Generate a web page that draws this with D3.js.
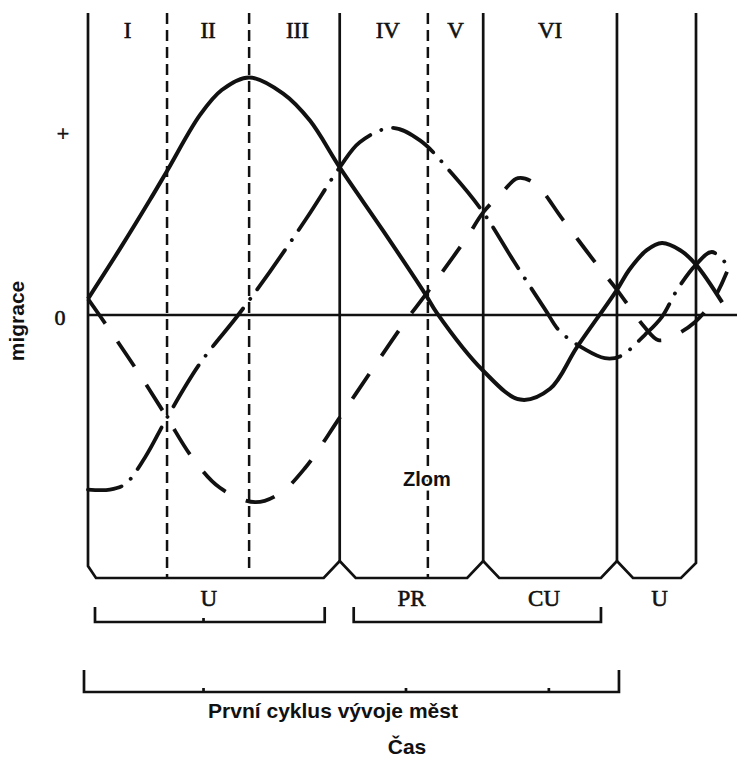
<!DOCTYPE html>
<html><head><meta charset="utf-8">
<script src="https://cdn.jsdelivr.net/npm/d3@7"></script>
<style>body{margin:0;background:#fff}svg{display:block}</style>
</head><body>
<svg id="c" width="737" height="758"></svg>
<script>
// ---- data (time 0..100 across the first cycle + next U, migration: "+" = 1) ----
const stageLabels = ["I", "II", "III", "IV", "V", "VI"];
const stageBounds = [0, 13.0, 26.5, 41.4, 55.9, 65.0, 87.0];
const dashedBounds = [13.0, 26.5, 55.9];
const solidBounds = [0, 41.4, 65.0, 87.0, 100];
const phaseLabels = ["U", "PR", "CU", "U"];
const phaseBounds = [0, 41.4, 65.0, 87.0, 100];
const yTickLabels = ["+", "0"];
const yTickValues = [1, 0];
const cycleTicks = [19, 52.3, 75.8];

const solidSeries = [
  [0, 0.09], [5.3, 0.37], [10.2, 0.64], [13.0, 0.80], [18.4, 1.11], [22.0, 1.25], [26.5, 1.32],
  [32.1, 1.23], [36.5, 1.08], [41.4, 0.82], [48.5, 0.47], [55.4, 0.12], [57.4, 0.01],
  [65.0, -0.31], [71.1, -0.47], [76.0, -0.41], [80.4, -0.18], [87.0, 0.14], [89.0, 0.25],
  [91.9, 0.36], [94.4, 0.40], [97.4, 0.36], [100.0, 0.28], [104.3, 0.07]
];
const dashDotSeries = [
  [0, -0.97], [3.6, -0.97], [6.1, -0.94], [9.4, -0.79], [13.0, -0.57], [18.4, -0.27],
  [24.7, 0.0], [29.9, 0.24], [36.0, 0.54], [41.4, 0.82], [44.7, 0.96], [50.0, 1.04],
  [54.6, 0.97], [60.0, 0.78], [65.0, 0.57], [70.2, 0.29], [75.2, 0.03], [77.6, -0.09],
  [81.7, -0.19], [85.0, -0.24], [87.5, -0.23], [91.6, -0.11], [94.4, -0.01], [96.9, 0.14],
  [100.0, 0.28], [102.6, 0.35], [105.1, 0.28]
];
const longDashSeries = [
  [0, 0.09], [3.1, -0.06], [8.1, -0.31], [13.0, -0.57], [17.1, -0.79], [21.7, -0.96],
  [27.5, -1.04], [31.6, -0.99], [35.7, -0.85], [41.4, -0.57], [46.4, -0.32], [52.1, -0.04],
  [55.9, 0.13], [62.3, 0.43], [65.0, 0.57], [68.1, 0.68], [70.7, 0.76], [73.5, 0.73],
  [78.1, 0.53], [83.7, 0.28], [87.0, 0.14], [91.6, -0.07], [93.8, -0.14], [96.1, -0.12],
  [99.8, -0.04], [102.8, 0.08], [105.1, 0.24]
];

// ---- layout ----
const W = 737, H = 758;
const frameTop = 13, frameBottom = 578;
const x = d3.scaleLinear().domain([0, 100]).range([88, 696]);
const y = d3.scaleLinear().domain([0, 1]).range([315, 135]);
const svg = d3.select("#c");
const ink = "#111";
const serif = "'Liberation Serif','Times New Roman',serif";
const sans = "'Liberation Sans',Arial,sans-serif";

// frame with notched bottom
const nh = 16, np = 17;
const p = d3.path();
p.moveTo(x(0), frameTop);
p.lineTo(x(0), frameBottom - 12);
p.lineTo(x(0) + 8, frameBottom);
solidBounds.slice(1, -1).forEach(b => {
  p.lineTo(x(b) - nh, frameBottom);
  p.lineTo(x(b), frameBottom - np);
  p.lineTo(x(b) + nh, frameBottom);
});
p.lineTo(x(100) - 15, frameBottom);
p.lineTo(x(100), frameBottom - 15);
p.lineTo(x(100), frameTop);
svg.append("path").attr("d", p.toString()).attr("fill", "none")
  .attr("stroke", ink).attr("stroke-width", 2.7).attr("stroke-linejoin", "miter");

svg.selectAll(".vs").data(solidBounds.slice(1, -1)).join("line")
  .attr("x1", d => x(d)).attr("x2", d => x(d))
  .attr("y1", frameTop).attr("y2", frameBottom - np)
  .attr("stroke", ink).attr("stroke-width", 2.7);

svg.selectAll(".vd").data(dashedBounds).join("line")
  .attr("x1", d => x(d)).attr("x2", d => x(d))
  .attr("y1", frameTop).attr("y2", (d, i) => i === 1 ? frameBottom - 6 : frameBottom)
  .attr("stroke", ink).attr("stroke-width", 2.5).attr("stroke-dasharray", "11,6");

// zero line
svg.append("line").attr("x1", x(0)).attr("x2", W).attr("y1", y(0)).attr("y2", y(0))
  .attr("stroke", ink).attr("stroke-width", 2.7);

// y tick labels
svg.selectAll(".yt").data(yTickValues).join("text")
  .attr("x", (d, i) => i === 0 ? 63 : 60)
  .attr("y", (d, i) => y(d) + (i === 0 ? 6 : 10))
  .attr("text-anchor", "middle").attr("font-family", serif).attr("font-size", 22)
  .attr("fill", ink).attr("stroke", ink).attr("stroke-width", 0.6)
  .text((d, i) => yTickLabels[i]);

// axis title
svg.append("text").attr("transform", "translate(24,321) rotate(-90)")
  .attr("text-anchor", "middle").attr("font-family", sans).attr("font-weight", "bold")
  .attr("font-size", 21).attr("fill", ink).text("migrace");

// stage labels
svg.selectAll(".sl").data(stageLabels).join("text")
  .attr("x", (d, i) => (x(stageBounds[i]) + x(stageBounds[i + 1])) / 2 + (i === 2 ? 3 : i === 3 ? 4 : 0))
  .attr("y", 38).attr("text-anchor", "middle").attr("font-family", serif)
  .attr("font-size", 23).attr("fill", ink).attr("stroke", ink).attr("stroke-width", 0.6)
  .text(d => d);

// curves
const line = d3.line().x(d => x(d[0])).y(d => y(d[1])).curve(d3.curveCatmullRom.alpha(0.5));
svg.append("path").attr("d", line(longDashSeries)).attr("fill", "none")
  .attr("stroke", ink).attr("stroke-width", 3.8).attr("stroke-dasharray", "30,22");
svg.append("path").attr("d", line(dashDotSeries)).attr("fill", "none")
  .attr("stroke", ink).attr("stroke-width", 3.8).attr("stroke-linecap", "round")
  .attr("stroke-dasharray", "48,12,0.1,12").attr("stroke-dashoffset", 14);
svg.append("path").attr("d", line(solidSeries)).attr("fill", "none")
  .attr("stroke", ink).attr("stroke-width", 4);

// Zlom label
svg.append("text").attr("x", x(dashedBounds[2]) - 1).attr("y", 486)
  .attr("text-anchor", "middle").attr("font-family", sans).attr("font-weight", "bold")
  .attr("font-size", 20).attr("fill", ink)
  .attr("stroke", "#fff").attr("stroke-width", 9).attr("paint-order", "stroke")
  .text("Zlom");

// phase labels
svg.selectAll(".pl").data(phaseLabels).join("text")
  .attr("x", (d, i) => (x(phaseBounds[i]) + x(phaseBounds[i + 1])) / 2 + [-5, 0, -6, 3][i])
  .attr("y", 606).attr("text-anchor", "middle").attr("font-family", serif)
  .attr("font-size", 23).attr("fill", ink).attr("stroke", ink).attr("stroke-width", 0.6)
  .text(d => d);

// brackets
function bracket(x0, x1, yb, yt, ticks) {
  const bp = d3.path();
  bp.moveTo(x0, yt); bp.lineTo(x0, yb); bp.lineTo(x1, yb); bp.lineTo(x1, yt);
  (ticks || []).forEach(t => { bp.moveTo(t, yb); bp.lineTo(t, yb - 4); });
  svg.append("path").attr("d", bp.toString()).attr("fill", "none")
    .attr("stroke", ink).attr("stroke-width", 2.7);
}
bracket(x(phaseBounds[0]) + 7, x(phaseBounds[1]) - 15, 622, 607, [x(19)]);
bracket(x(phaseBounds[1]) + 14, x(phaseBounds[3]) - 16, 622, 607, []);
bracket(x(phaseBounds[0]) - 4, x(phaseBounds[3]) + 2, 692, 670, cycleTicks.map(x));

svg.append("text").attr("x", 333).attr("y", 718).attr("text-anchor", "middle")
  .attr("font-family", sans).attr("font-weight", "bold").attr("font-size", 21)
  .attr("fill", ink).text("První cyklus vývoje měst");
svg.append("text").attr("x", 407).attr("y", 754).attr("text-anchor", "middle")
  .attr("font-family", sans).attr("font-weight", "bold").attr("font-size", 21)
  .attr("fill", ink).text("Čas");
</script>
</body></html>
